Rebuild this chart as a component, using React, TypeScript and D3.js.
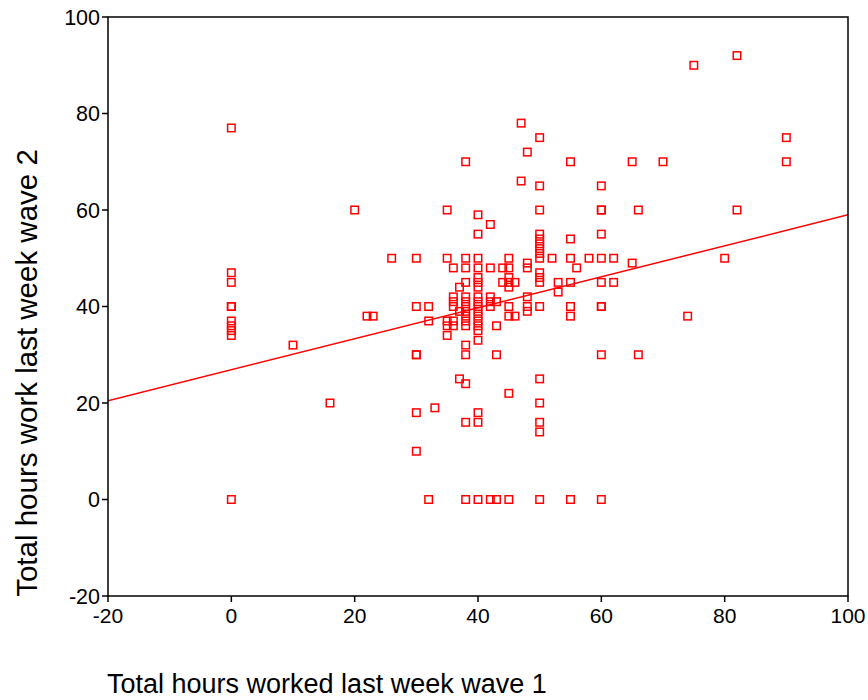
import React from "react";
import * as d3 from "d3";

// Hours worked in wave 1 (x) and, for each, the wave-2 hours observed (y)
const wave1Columns = [0, 10, 16, 20, 22, 23, 26, 30, 32, 33, 35, 36, 37, 38, 40, 42, 43, 44, 45, 46, 47, 48, 50, 52, 53, 55, 56, 58, 60, 62, 65, 66, 70, 74, 75, 80, 82, 90];
const wave2ByColumn = [
  [77, 47, 45, 40, 40, 37, 36, 35, 34, 0],
  [32],
  [20],
  [60],
  [38],
  [38],
  [50],
  [50, 40, 30, 30, 18, 10],
  [40, 37, 0],
  [19],
  [60, 50, 37, 36, 34],
  [48, 42, 41, 40, 37, 36],
  [44, 39, 25],
  [70, 50, 48, 45, 42, 41, 40, 39, 38, 37, 36, 32, 30, 24, 16, 0],
  [59, 55, 50, 48, 46, 45, 44, 42, 41, 40, 39, 38, 37, 36, 35, 33, 18, 16, 0],
  [57, 48, 42, 41, 40, 0],
  [41, 36, 30, 0],
  [48, 45],
  [50, 48, 46, 45, 44, 40, 38, 22, 0],
  [45, 38],
  [78, 66],
  [72, 49, 48, 42, 40, 39],
  [75, 65, 60, 55, 54, 53, 52, 51, 50, 47, 46, 45, 40, 25, 20, 16, 14, 0],
  [50],
  [45, 43],
  [70, 54, 50, 45, 40, 38, 0],
  [48],
  [50],
  [65, 60, 60, 55, 50, 45, 40, 40, 30, 0],
  [50, 45],
  [70, 49],
  [60, 30],
  [70],
  [38],
  [90],
  [50],
  [92, 60],
  [75, 70],
];

// Linear fit line
const fitIntercept = 26.9;
const fitSlope = 0.321;

const xTicks = [-20, 0, 20, 40, 60, 80, 100];
const yTicks = [-20, 0, 20, 40, 60, 80, 100];
const xDomain = [-20, 100];
const yDomain = [-20, 100];
const xTitle = "Total hours worked last week wave 1";
const yTitle = "Total hours work last week wave 2";

export default function App() {
  const W = 868;
  const H = 700;
  const left = 108;
  const right = 848;
  const top = 17;
  const bottom = 596;

  const x = d3.scaleLinear().domain(xDomain).range([left, right]);
  const y = d3.scaleLinear().domain(yDomain).range([bottom, top]);

  const points: { xv: number; yv: number }[] = [];
  wave1Columns.forEach((xv, i) => {
    wave2ByColumn[i].forEach((yv) => points.push({ xv, yv }));
  });

  const line = d3
    .line<number>()
    .x((d) => x(d))
    .y((d) => y(fitIntercept + fitSlope * d));

  const font = "Arial, 'Liberation Sans', sans-serif";
  const s = 7.5;

  return (
    <svg
      width={W}
      height={H}
      style={{ position: "absolute", left: 0, top: 0, background: "#fff" }}
      fontFamily={font}
    >
      <rect x={0} y={0} width={W} height={H} fill="#fff" />
      <defs>
        <clipPath id="plotclip">
          <rect x={left} y={top} width={right - left} height={bottom - top} />
        </clipPath>
      </defs>
      <g clipPath="url(#plotclip)">
        <path d={line(xDomain) || ""} stroke="#ff0000" strokeWidth={1.5} fill="none" />
      </g>
      {points.map((p, i) => (
        <rect
          key={i}
          x={x(p.xv) - s / 2}
          y={y(p.yv) - s / 2}
          width={s}
          height={s}
          fill="none"
          stroke="#ff0000"
          strokeWidth={1.5}
        />
      ))}
      <rect
        x={left}
        y={top}
        width={right - left}
        height={bottom - top}
        fill="none"
        stroke="#000"
        strokeWidth={1.5}
      />
      {xTicks.map((t) => (
        <g key={"x" + t}>
          <line x1={x(t)} x2={x(t)} y1={bottom} y2={bottom + 6} stroke="#000" strokeWidth={1.5} />
          <text x={x(t)} y={bottom + 27} textAnchor="middle" fontSize={21} fill="#000">
            {t}
          </text>
        </g>
      ))}
      {yTicks.map((t) => (
        <g key={"y" + t}>
          <line x1={left - 6} x2={left} y1={y(t)} y2={y(t)} stroke="#000" strokeWidth={1.5} />
          <text x={left - 8} y={y(t)} dy="0.35em" textAnchor="end" fontSize={21.5} fill="#000">
            {t}
          </text>
        </g>
      ))}
      <text x={107} y={693} fontSize={27} fill="#000">
        {xTitle}
      </text>
      <text
        transform={`translate(37, 373) rotate(-90)`}
        textAnchor="middle"
        fontSize={29.5}
        fill="#000"
      >
        {yTitle}
      </text>
    </svg>
  );
}
